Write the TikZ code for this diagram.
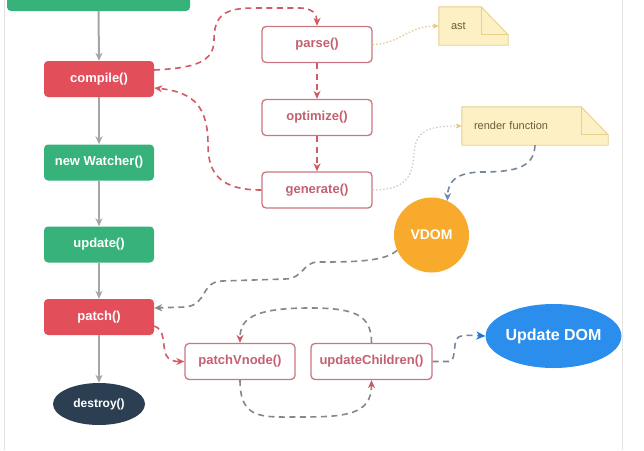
\documentclass[tikz,border=0pt]{standalone}
\usepackage{fontspec}
\setmainfont{Liberation Sans}
\usetikzlibrary{arrows.meta,backgrounds,shapes.geometric,calc}
\definecolor{vgreen}{RGB}{54,178,122}
\definecolor{vred}{RGB}{226,78,90}
\definecolor{navy}{RGB}{44,62,82}
\definecolor{vorange}{RGB}{247,170,44}
\definecolor{vblue}{RGB}{44,142,236}
\definecolor{oborder}{RGB}{204,118,128}
\definecolor{otext}{RGB}{196,96,112}
\definecolor{rdashc}{RGB}{210,90,100}
\definecolor{gline}{RGB}{165,165,165}
\definecolor{gdashc}{RGB}{135,135,135}
\definecolor{rtip}{RGB}{200,90,100}
\definecolor{bgdashc}{RGB}{120,135,155}
\definecolor{bgtip}{RGB}{110,140,180}
\definecolor{btip}{RGB}{30,120,220}
\definecolor{astdotc}{RGB}{228,200,130}
\definecolor{rfdotc}{RGB}{205,205,192}
\definecolor{notefill}{RGB}{252,240,196}
\definecolor{noteborder}{RGB}{230,208,140}
\definecolor{notetxt}{RGB}{105,92,60}
\definecolor{borderc}{RGB}{226,226,226}
\tikzset{
  boxbase/.style={rectangle, rounded corners=4pt, minimum width=110pt, minimum height=36pt, inner sep=0pt, font=\bfseries\fontsize{13}{15}\selectfont},
  gbox/.style={boxbase, fill=vgreen, text=white},
  rbox/.style={boxbase, fill=vred, text=white},
  obox/.style={boxbase, draw=oborder, line width=1.3pt, fill=white, text=otext},
  notetext/.style={rectangle, inner xsep=12pt, inner ysep=0pt, align=left, text=notetxt, font=\fontsize{11}{13}\selectfont},
  tipshape/.style={},
  flow/.style={draw=gline, line width=2pt, -{Stealth[length=8pt,width=7pt,inset=2.5pt]}},
  rdash/.style={draw=rdashc, line width=1.6pt, dash pattern=on 6pt off 4.5pt, -{Stealth[length=8pt,width=7pt,inset=2.5pt]}},
  gdash/.style={draw=gdashc, line width=1.6pt, dash pattern=on 6pt off 4.5pt, -{Stealth[length=8pt,width=7pt,inset=2.5pt]}},
  gdashr/.style={draw=gdashc, line width=1.6pt, dash pattern=on 6pt off 4.5pt, -{Stealth[length=8pt,width=7pt,inset=2.5pt,color=rtip]}},
  bgdash/.style={draw=bgdashc, line width=1.6pt, dash pattern=on 6pt off 4.5pt, -{Stealth[length=8pt,width=7pt,inset=2.5pt,color=bgtip]}},
  bldash/.style={draw=bgdashc, line width=1.6pt, dash pattern=on 6pt off 4.5pt, -{Stealth[length=9pt,width=8pt,inset=2.5pt,color=btip]}},
  astdot/.style={draw=astdotc, line width=1.2pt, dash pattern=on 1.5pt off 2pt, -{Stealth[length=6pt,width=5pt,inset=1.5pt]}},
  rfdot/.style={draw=rfdotc, line width=1.2pt, dash pattern=on 1.5pt off 2pt, -{Stealth[length=6pt,width=5pt,inset=1.5pt,color=astdotc]}},
  borderline/.style={draw=borderc, line width=1pt},
  notebg/.style={fill=notefill, draw=noteborder, line width=0.9pt, line join=round}
}
\begin{document}
\begin{tikzpicture}[x=1pt,y=-1pt]
\useasboundingbox (0,0) rectangle (644,450);
\clip (0,0) rectangle (644,450);

% nodes
\node[gbox, minimum width=183pt, minimum height=42pt] (start) at (98.5,-10) {};
\node[rbox] (compile) at (99,79) {compile()};
\node[gbox] (watcher) at (99,162.5) {new Watcher()};
\node[gbox] (update) at (99,244.5) {update()};
\node[rbox] (patch) at (99,317) {patch()};
\node[ellipse, fill=navy, text=white, minimum width=92pt, minimum height=42pt, inner sep=0pt, font=\bfseries\fontsize{12}{14}\selectfont] (destroy) at (99,404) {destroy()};

\node[obox] (parse) at (317,44.5) {parse()};
\node[obox] (optimize) at (317,117.5) {optimize()};
\node[obox] (generate) at (317,190) {generate()};
\node[obox] (pv) at (240,361.5) {patchVnode()};
\node[obox, minimum width=121pt] (uc) at (371.5,361.5) {updateChildren()};

\node[circle, fill=vorange, text=white, minimum size=75pt, inner sep=0pt, font=\bfseries\fontsize{14}{16}\selectfont] (vdom) at (431.5,235) {VDOM};
\node[ellipse, fill=vblue, text=white, minimum width=129pt, minimum height=64pt, inner sep=0pt, font=\bfseries\fontsize{16}{18}\selectfont] (udom) at (553.5,336) {Update DOM};

\node[notetext, minimum height=38pt, text width=45pt] (ast) at (473.5,26) {ast};
\node[notetext, minimum height=38pt, text width=122pt] (render) at (535,126) {render function};

\begin{scope}[on background layer]
  \fill[white] (0,0) rectangle (644,450);
  \draw[borderline] (4,0) -- (4,450);
  \draw[borderline] (622,0) -- (622,450);
  \foreach \n in {ast,render}{
    \path[notebg] (\n.north west) -- ([xshift=-27pt]\n.north east) -- ([yshift=-28pt]\n.north east) -- (\n.south east) -- (\n.south west) -- cycle;
    \draw[noteborder, line width=0.9pt] ([xshift=-27pt]\n.north east) -- ([xshift=-27pt,yshift=-28pt]\n.north east) -- ([yshift=-28pt]\n.north east);
  }
\end{scope}

% main flow
\draw[flow] (start.south) -- (compile.north);
\draw[flow] (compile.south) -- (watcher.north);
\draw[flow] (watcher.south) -- (update.north);
\draw[flow] (update.south) -- (patch.north);
\draw[flow] (patch.south) -- (destroy.north);

% compile chain
\draw[rdash] ([yshift=9pt]compile.east) .. controls (195,68) and (214,62) .. (214,40)
  .. controls (214,14) and (226,8) .. (255,8) -- (300,8)
  .. controls (312,8) and (317,14) .. (parse.north);
\draw[rdash] (parse.south) -- (optimize.north);
\draw[rdash] (optimize.south) -- (generate.north);
\draw[rdash] (generate.west) .. controls (222,190) and (208,175) .. (208,145)
  .. controls (208,108) and (195,92) .. ([yshift=-9pt]compile.east);

% notes
\draw[astdot] (parse.east) .. controls (400,44) and (408,26) .. (ast.west);
\draw[rfdot] (generate.east) .. controls (410,190) and (413,172) .. (414,152)
  .. controls (416,130) and (430,126) .. (render.west);
\draw[bgdash] (render.south) .. controls (534,168) and (515,172) .. (480,172)
  .. controls (455,173) and (448,182) .. (vdom.65);

% vdom to patch
\draw[gdash] (vdom.204) .. controls (385,262) and (350,262) .. (318,262)
  .. controls (303,262) and (303,279) .. (285,279) -- (222,281)
  .. controls (200,282) and (208,305) .. (185,307) -- ([yshift=9pt]patch.east);

% patch chain
\draw[rdash] ([yshift=-9pt]patch.east) .. controls (166,330) and (162,345) .. (166,355)
  .. controls (169,361) and (175,361.5) .. (pv.west);
\draw[gdashr] (uc.north) .. controls (371.5,315) and (355,308) .. (310,308)
  .. controls (255,308) and (240,318) .. (pv.north);
\draw[gdashr] (pv.south) .. controls (240,420) and (262,417) .. (300,417)
  .. controls (345,417) and (371.5,415) .. (uc.south);
\draw[bldash] (uc.east) -- (450,361.5) .. controls (455,361) and (454,345) .. (456,340)
  .. controls (458,335) and (465,335) .. (udom.west);
\end{tikzpicture}
\end{document}
